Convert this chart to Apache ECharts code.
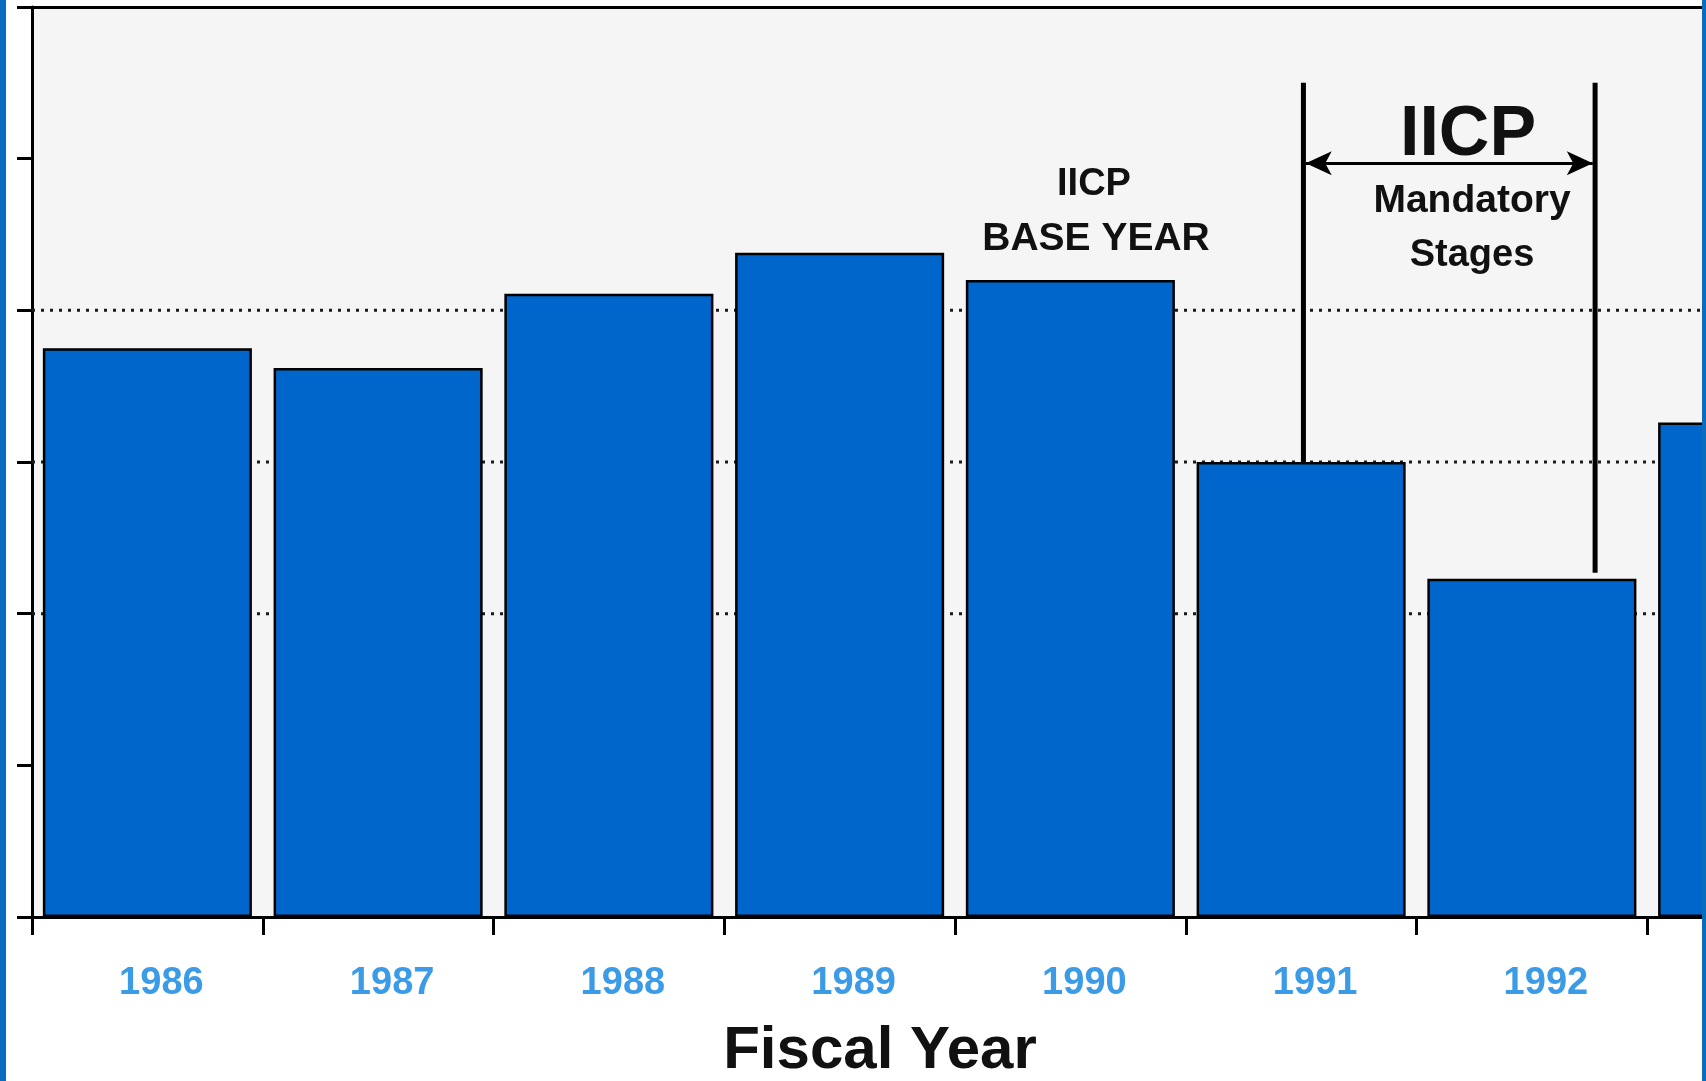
<!DOCTYPE html>
<html><head><meta charset="utf-8">
<script src="https://cdn.jsdelivr.net/npm/echarts@6/dist/echarts.min.js"></script>
<style>html,body{margin:0;padding:0;background:#fff}#chart{width:1706px;height:1081px}</style>
</head><body><div id="chart"></div>
<script>
// ---- data ----
const categories = ['1986', '1987', '1988', '1989', '1990', '1991', '1992', '1993'];
const values = [37.5, 36.2, 41.1, 43.8, 42.0, 30.0, 22.3, 32.6];
const yMin = 0, yMax = 60, yInterval = 10;
const dottedGridValues = [20, 30, 40];
// annotation anchors (x in category-index units, y in value units)
const stageStartX = 5.51, stageEndX = 6.774;
const stageTop = 55, stageArrowY = 49.7;
const stageStartBottom = 30.0, stageEndBottom = 22.7;
const baseYearText = ['IICP', 'BASE YEAR'];
const stageTitle = 'IICP';
const stageText = ['Mandatory', 'Stages'];
const xAxisName = 'Fiscal Year';

const FONT = '"Liberation Sans", Arial, sans-serif';
const chart = echarts.init(document.getElementById('chart'), null, {renderer: 'canvas'});

const gridSeries = dottedGridValues.map(v => ({
  type: 'line', xAxisIndex: 1, yAxisIndex: 0, z: 1, silent: true,
  symbol: 'none', data: [[0, v], [categories.length, v]],
  lineStyle: {color: '#1a1a1a', width: 3, type: [3, 6]}
}));

function txt(text, x, y, size) {
  return {type: 'text', z: 50, style: {
    text: text, x: x, y: y, font: 'bold ' + size + 'px ' + FONT, fill: '#111',
    align: 'center', verticalAlign: 'middle', textAlign: 'center', textVerticalAlign: 'middle'
  }};
}

chart.setOption({
  animation: false,
  backgroundColor: '#ffffff',
  grid: {left: 32, top: 7, bottom: 164, right: -172, show: true, backgroundColor: '#f5f5f5',
         borderWidth: 0, containLabel: false, outerBoundsMode: 'none'},
  xAxis: [{
    type: 'category', data: categories, position: 'bottom',
    axisLine: {show: true, lineStyle: {color: '#000', width: 3}},
    axisTick: {show: true, alignWithLabel: false, length: 18, lineStyle: {color: '#000', width: 3}},
    axisLabel: {color: '#3c9be6', fontSize: 38, fontWeight: 'bold', fontFamily: FONT, margin: 48,
                padding: [0, 0, 0, 28], interval: 0},
    splitLine: {show: false}
  }, {
    type: 'value', min: 0, max: categories.length, position: 'top',
    axisLine: {show: true, lineStyle: {color: '#000', width: 3}},
    axisTick: {show: false}, axisLabel: {show: false}, splitLine: {show: false}
  }],
  yAxis: [{
    type: 'value', min: yMin, max: yMax, interval: yInterval,
    axisLine: {show: true, lineStyle: {color: '#000', width: 3}},
    axisTick: {show: true, length: 15, lineStyle: {color: '#000', width: 3}},
    axisLabel: {show: false}, splitLine: {show: false}
  }],
  series: [
    ...gridSeries,
    {
      type: 'bar', xAxisIndex: 0, yAxisIndex: 0, z: 2, data: values,
      barCategoryGap: '9.4%',
      itemStyle: {color: '#0066cc', borderColor: '#000', borderWidth: 2.5}
    },
    {
      type: 'line', xAxisIndex: 1, yAxisIndex: 0, z: 5, silent: true, symbol: 'none',
      data: [[stageStartX, stageStartBottom], [stageStartX, stageTop]],
      lineStyle: {color: '#000', width: 5, cap: 'butt'},
      markLine: {
        silent: true, animation: false, symbol: ['arrow', 'arrow'], symbolSize: [18, 26],
        label: {show: false},
        lineStyle: {color: '#000', width: 3, type: 'solid'},
        data: [[{coord: [stageStartX + 0.01, stageArrowY]}, {coord: [stageEndX - 0.01, stageArrowY]}]]
      }
    },
    {
      type: 'line', xAxisIndex: 1, yAxisIndex: 0, z: 5, silent: true, symbol: 'none',
      data: [[stageEndX, stageEndBottom], [stageEndX, stageTop]],
      lineStyle: {color: '#000', width: 5, cap: 'butt'}
    }
  ],
  graphic: [
    {type: 'rect', z: 100, shape: {x: 0, y: 0, width: 6, height: 1081}, style: {fill: '#0a6cbf'}},
    {type: 'rect', z: 100, shape: {x: 1702, y: 0, width: 4, height: 1081}, style: {fill: '#0a6cbf'}},
    txt(baseYearText[0], 1094, 185, 38),
    txt(baseYearText[1], 1096, 239, 39),
    txt(stageTitle, 1468, 136, 70),
    txt(stageText[0], 1472, 201, 39),
    txt(stageText[1], 1472, 256, 38),
    txt(xAxisName, 880, 1051, 60)
  ]
});
</script></body></html>
